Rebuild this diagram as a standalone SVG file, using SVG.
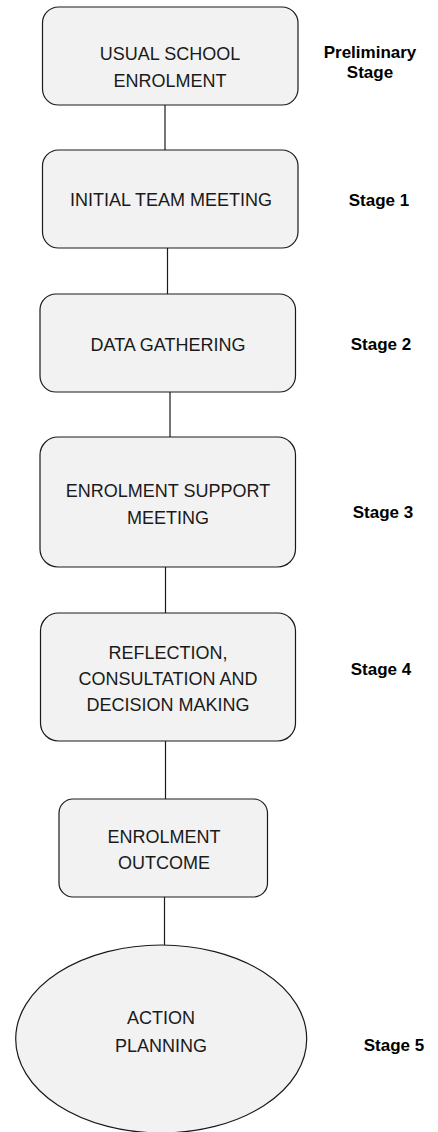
<svg xmlns="http://www.w3.org/2000/svg" width="438" height="1132" viewBox="0 0 438 1132">
<style>
.box{fill:#f2f2f2;stroke:#1a1a1a;stroke-width:1.2}
.lbl{font-family:"Liberation Sans",Arial,sans-serif;font-size:18px;fill:#1a1a1a;text-anchor:middle}
.stg{font-family:"Liberation Sans",Arial,sans-serif;font-size:17px;font-weight:bold;fill:#000;text-anchor:middle}
.con{stroke:#1a1a1a;stroke-width:1.2;fill:none}
</style>
<rect width="438" height="1132" fill="#fff"/>
<g id="connectors">
<line class="con" x1="165" y1="105" x2="165" y2="150"/>
<line class="con" x1="167.5" y1="248" x2="167.5" y2="294"/>
<line class="con" x1="170" y1="392" x2="170" y2="437"/>
<line class="con" x1="165.5" y1="567" x2="165.5" y2="613"/>
<line class="con" x1="165.5" y1="741" x2="165.5" y2="799"/>
<line class="con" x1="164.5" y1="897" x2="164.5" y2="945"/>
</g>
<g id="n0">
<rect class="box" x="42.5" y="7" width="255.5" height="98" rx="16"/>
<text class="lbl" x="170" y="60">USUAL SCHOOL</text>
<text class="lbl" x="170" y="87">ENROLMENT</text>
</g>
<g id="n1">
<rect class="box" x="42.5" y="150" width="255.5" height="98" rx="16"/>
<text class="lbl" x="171" y="206">INITIAL TEAM MEETING</text>
</g>
<g id="n2">
<rect class="box" x="40" y="294" width="255.5" height="98" rx="16"/>
<text class="lbl" x="168" y="351">DATA GATHERING</text>
</g>
<g id="n3">
<rect class="box" x="40" y="437" width="255.5" height="130" rx="18"/>
<text class="lbl" x="168" y="497">ENROLMENT SUPPORT</text>
<text class="lbl" x="168" y="523.5">MEETING</text>
</g>
<g id="n4">
<rect class="box" x="40.5" y="613" width="255" height="128" rx="18"/>
<text class="lbl" x="168" y="658.5">REFLECTION,</text>
<text class="lbl" x="168" y="685">CONSULTATION AND</text>
<text class="lbl" x="168" y="711">DECISION MAKING</text>
</g>
<g id="n5">
<rect class="box" x="59" y="799" width="208.5" height="98" rx="14"/>
<text class="lbl" x="164" y="842.5">ENROLMENT</text>
<text class="lbl" x="164" y="869">OUTCOME</text>
</g>
<g id="n6">
<ellipse class="box" cx="161.2" cy="1039" rx="145.5" ry="94"/>
<text class="lbl" x="161" y="1024">ACTION</text>
<text class="lbl" x="161" y="1051.5">PLANNING</text>
</g>
<g id="stages">
<text class="stg" x="370" y="58">Preliminary</text>
<text class="stg" x="370" y="78">Stage</text>
<text class="stg" x="379" y="206">Stage 1</text>
<text class="stg" x="381" y="349.5">Stage 2</text>
<text class="stg" x="383" y="518">Stage 3</text>
<text class="stg" x="381" y="675">Stage 4</text>
<text class="stg" x="394" y="1051">Stage 5</text>
</g>
</svg>
